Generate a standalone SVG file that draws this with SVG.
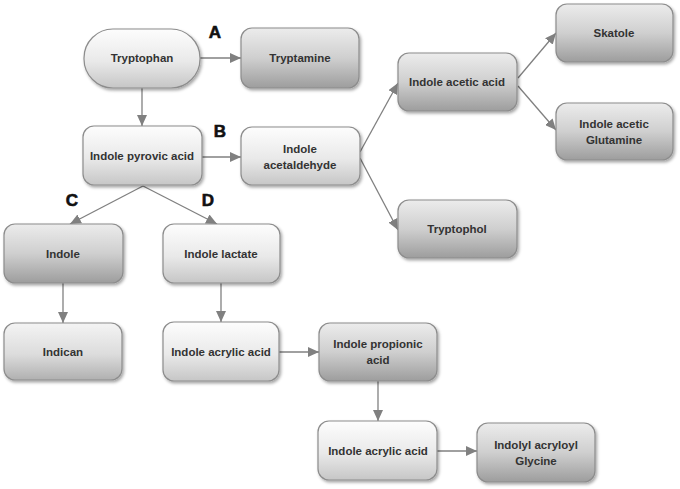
<svg xmlns="http://www.w3.org/2000/svg" width="680" height="489" viewBox="0 0 680 489">
<defs>
<linearGradient id="gLight" x1="0" y1="0" x2="0" y2="1">
<stop offset="0" stop-color="#fdfdfd"/>
<stop offset="0.55" stop-color="#e9e9e9"/>
<stop offset="1" stop-color="#c6c6c6"/>
</linearGradient>
<linearGradient id="gDark" x1="0" y1="0" x2="0" y2="1">
<stop offset="0" stop-color="#ececec"/>
<stop offset="0.5" stop-color="#cfcfcf"/>
<stop offset="1" stop-color="#9d9d9d"/>
</linearGradient>
<linearGradient id="gMid" x1="0" y1="0" x2="0" y2="1">
<stop offset="0" stop-color="#f4f4f4"/>
<stop offset="0.55" stop-color="#dcdcdc"/>
<stop offset="1" stop-color="#b0b0b0"/>
</linearGradient>
<filter id="sh" x="-10%" y="-10%" width="125%" height="130%">
<feDropShadow dx="1.5" dy="2" stdDeviation="1.4" flood-color="#000" flood-opacity="0.35"/>
</filter>
<marker id="arr" markerUnits="userSpaceOnUse" markerWidth="12" markerHeight="10" refX="11" refY="5" orient="auto">
<path d="M0,0 L11,5 L0,10 Z" fill="#808080"/>
</marker>
</defs>
<style>
.n rect{stroke:#8c8c8c;stroke-width:1.2;filter:url(#sh)}
.l rect{fill:url(#gLight)}
.d rect{fill:url(#gDark)}
.m rect{fill:url(#gMid)}
.n text{font-family:"Liberation Sans",Arial,sans-serif;font-weight:bold;font-size:11.5px;fill:#333;text-anchor:middle}
.c line{stroke:#808080;stroke-width:1.3;marker-end:url(#arr)}
.lab{font-family:"Liberation Sans",Arial,sans-serif;font-weight:bold;font-size:17px;fill:#111;text-anchor:middle;stroke:#111;stroke-width:0.6}
</style>
<g class="c" id="connectors">
<line x1="200" y1="58" x2="241" y2="58"/>
<line x1="142" y1="88" x2="142" y2="126"/>
<line x1="202" y1="157" x2="241" y2="157"/>
<line x1="143" y1="186" x2="70" y2="224"/>
<line x1="143" y1="186" x2="217" y2="224"/>
<line x1="360" y1="152" x2="398" y2="83"/>
<line x1="360" y1="158" x2="398" y2="230"/>
<line x1="518" y1="78" x2="556" y2="33"/>
<line x1="518" y1="86" x2="556" y2="130"/>
<line x1="63" y1="283" x2="63" y2="323"/>
<line x1="221" y1="283" x2="221" y2="322"/>
<line x1="279" y1="352" x2="319" y2="352"/>
<line x1="378" y1="381" x2="378" y2="421"/>
<line x1="437" y1="451" x2="477" y2="451"/>
</g>
<text class="lab" x="215" y="38">A</text>
<text class="lab" x="220" y="137">B</text>
<text class="lab" x="72" y="206">C</text>
<text class="lab" x="208" y="206">D</text>
<g class="n l" id="tryptophan"><rect x="84" y="29" width="116" height="59" rx="29" ry="29"/><text x="142" y="62">Tryptophan</text></g>
<g class="n d" id="tryptamine"><rect x="241" y="28" width="118" height="60" rx="11"/><text x="300" y="62">Tryptamine</text></g>
<g class="n l" id="pyrovic"><rect x="83" y="126" width="119" height="59" rx="11"/><text x="142" y="160">Indole pyrovic acid</text></g>
<g class="n l" id="acetaldehyde"><rect x="241" y="127" width="119" height="58" rx="11"/><text x="300" y="153">Indole</text><text x="300" y="169">acetaldehyde</text></g>
<g class="n d" id="aceticacid"><rect x="398" y="53" width="119" height="58" rx="11"/><text x="457" y="86">Indole acetic acid</text></g>
<g class="n d" id="skatole"><rect x="556" y="4" width="117" height="58" rx="11"/><text x="614" y="37">Skatole</text></g>
<g class="n d" id="glutamine"><rect x="556" y="103" width="117" height="57" rx="11"/><text x="614" y="128">Indole acetic</text><text x="614" y="144">Glutamine</text></g>
<g class="n d" id="tryptophol"><rect x="398" y="200" width="119" height="58" rx="11"/><text x="457" y="233">Tryptophol</text></g>
<g class="n d" id="indole"><rect x="4" y="224" width="119" height="59" rx="11"/><text x="63" y="258">Indole</text></g>
<g class="n l" id="lactate"><rect x="163" y="224" width="117" height="59" rx="11"/><text x="221" y="258">Indole lactate</text></g>
<g class="n m" id="indican"><rect x="4" y="323" width="118" height="57" rx="11"/><text x="63" y="356">Indican</text></g>
<g class="n l" id="acrylic1"><rect x="163" y="322" width="116" height="59" rx="11"/><text x="221" y="356">Indole acrylic acid</text></g>
<g class="n d" id="propionic"><rect x="319" y="323" width="118" height="58" rx="11"/><text x="378" y="348">Indole propionic</text><text x="378" y="364">acid</text></g>
<g class="n l" id="acrylic2"><rect x="318" y="421" width="119" height="59" rx="11"/><text x="378" y="455">Indole acrylic acid</text></g>
<g class="n d" id="glycine"><rect x="477" y="423" width="118" height="59" rx="11"/><text x="536" y="449">Indolyl acryloyl</text><text x="536" y="465">Glycine</text></g>
</svg>
